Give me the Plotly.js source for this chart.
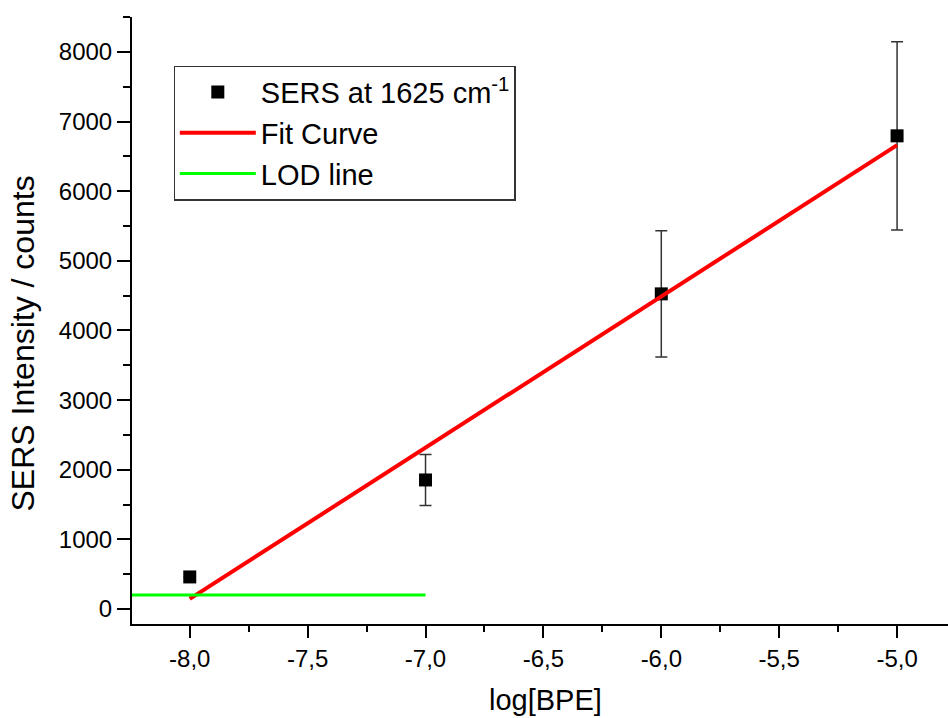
<!DOCTYPE html>
<html>
<head>
<meta charset="utf-8">
<script src="https://cdn.plot.ly/plotly-3.0.1.min.js"></script>
<style>html,body{margin:0;padding:0;background:#fff;}#chart{width:948px;height:718px;}</style>
</head>
<body>
<div id="chart"></div>
<script>
// Data
const logBPE = [-8, -7, -6, -5];
const sersIntensity = [460, 1853, 4526, 6796];
const sersError = [0, 366, 905, 1353];
const fitX = [-8, -5];
const fitY = [144, 6662];
const lodX = [-8.245, -7];
const lodY = [201, 201];
const xTickVals = [-8, -7.5, -7, -6.5, -6, -5.5, -5];
const xTickText = ['-8,0', '-7,5', '-7,0', '-6,5', '-6,0', '-5,5', '-5,0'];
const yTickVals = [0, 1000, 2000, 3000, 4000, 5000, 6000, 7000, 8000];
const yTickText = ['0', '1000', '2000', '3000', '4000', '5000', '6000', '7000', '8000'];
const xTitle = 'log[BPE]';
const yTitle = 'SERS Intensity / counts';

const FONT = "Liberation Sans, Arial, sans-serif";

const traces = [
  {
    x: logBPE, y: sersIntensity, type: 'scatter', mode: 'markers',
    name: 'SERS at 1625 cm<sup>-1</sup>',
    marker: {symbol: 'square', size: 13, color: '#000000'},
    error_y: {type: 'data', array: sersError, visible: true, color: '#333333', thickness: 1.5, width: 6},
    cliponaxis: false
  },
  {
    x: fitX, y: fitY, type: 'scatter', mode: 'lines', name: 'Fit Curve',
    line: {color: '#ff0000', width: 4}
  },
  {
    x: lodX, y: lodY, type: 'scatter', mode: 'lines', name: 'LOD line',
    line: {color: '#00ff00', width: 3}
  }
];

const layout = {
  width: 948, height: 718,
  margin: {l: 132, r: 0, t: 17, b: 94},
  paper_bgcolor: '#ffffff', plot_bgcolor: '#ffffff',
  font: {family: FONT, color: '#000000', size: 24},
  showlegend: true,
  legend: {
    x: 0.051, y: 0.92, xanchor: 'left', yanchor: 'top',
    bordercolor: '#333333', borderwidth: 1.2, bgcolor: '#ffffff',
    font: {family: FONT, size: 29, color: '#000000'},
    itemwidth: 76, tracegroupgap: 0
  },
  xaxis: {
    range: [-8.245, -4.784],
    tickvals: xTickVals, ticktext: xTickText,
    ticks: 'outside', ticklen: 12, tickwidth: 2, tickcolor: '#000000',
    minor: {dtick: 0.25, tick0: 0, ticks: 'outside', ticklen: 6, tickwidth: 2, tickcolor: '#000000', showgrid: false},
    showline: true, linecolor: '#000000', linewidth: 2,
    showgrid: false, zeroline: false,
    tickfont: {family: FONT, size: 24}
  },
  yaxis: {
    range: [-216, 8503],
    tickvals: yTickVals, ticktext: yTickText,
    ticks: 'outside', ticklen: 13, tickwidth: 2, tickcolor: '#000000',
    minor: {dtick: 500, tick0: 0, ticks: 'outside', ticklen: 7, tickwidth: 2, tickcolor: '#000000', showgrid: false},
    showline: true, linecolor: '#000000', linewidth: 2,
    showgrid: false, zeroline: false,
    tickfont: {family: FONT, size: 24}
  },
  annotations: [
    {text: xTitle, xref: 'paper', yref: 'paper', x: 0.5, y: 0, xanchor: 'center', yanchor: 'middle',
     xshift: 5, yshift: -76, showarrow: false, font: {family: FONT, size: 29, color: '#000000'}},
    {text: yTitle, xref: 'paper', yref: 'paper', x: 0, y: 0.5, xanchor: 'center', yanchor: 'middle',
     xshift: -110, yshift: -23, textangle: -90, showarrow: false, font: {family: FONT, size: 32, color: '#000000'}}
  ]
};

Plotly.newPlot('chart', traces, layout, {displayModeBar: false, staticPlot: true});
</script>
</body>
</html>
